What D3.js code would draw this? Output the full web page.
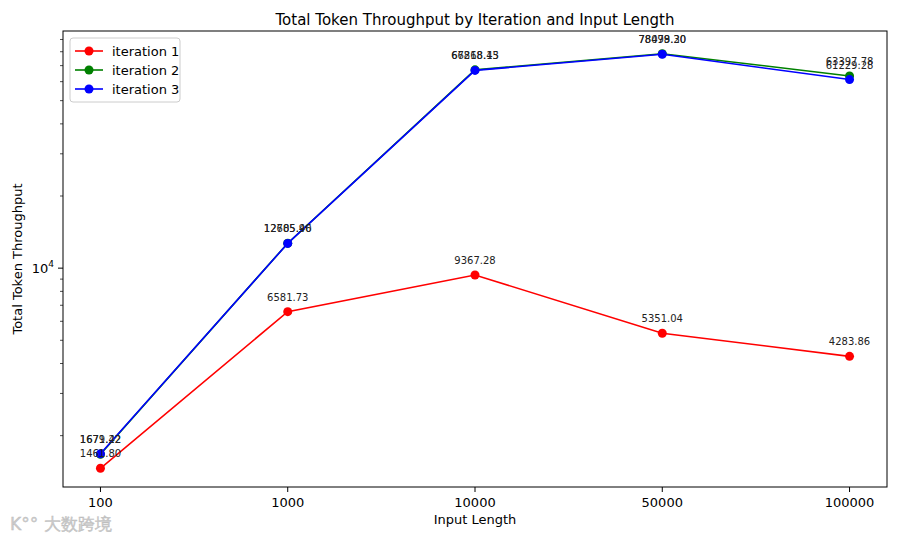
<!DOCTYPE html>
<html>
<head>
<meta charset="utf-8">
<script src="https://cdn.jsdelivr.net/npm/d3@7"></script>
<style>
  body { margin: 0; background: #fff; }
  text { font-family: "DejaVu Sans", sans-serif; }
</style>
</head>
<body>
<div id="chart"></div>
<script>
// data
const inputLengths = ["100", "1000", "10000", "50000", "100000"];
const iteration1 = [1461.80, 6581.73, 9367.28, 5351.04, 4283.86];
const iteration2 = [1671.22, 12705.40, 67218.15, 78479.20, 63397.78];
const iteration3 = [1679.42, 12685.96, 66868.43, 78098.30, 61229.28];
const seriesNames = ["iteration 1", "iteration 2", "iteration 3"];
const seriesColors = ["#ff0000", "#008000", "#0000ff"];

const series = [iteration1, iteration2, iteration3].map((vals, i) => ({
    name: seriesNames[i],
    color: seriesColors[i],
    values: vals.map((v, j) => ({x: inputLengths[j], y: v}))
}));

const W = 900, H = 540;
const margin = {top: 31, right: 13, bottom: 53, left: 63};
const width = W - margin.left - margin.right;
const height = H - margin.top - margin.bottom;

const svg = d3.select("#chart").append("svg")
    .attr("width", W)
    .attr("height", H);

const g = svg.append("g")
    .attr("transform", "translate(" + margin.left + "," + margin.top + ")");

// x: categorical with matplotlib-style 0.2 margin
const xIdx = d3.scaleLinear()
    .domain([-0.2, inputLengths.length - 1 + 0.2])
    .range([0, width]);
const x = d => xIdx(inputLengths.indexOf(d));

// y: log with 5% padding in log space
const allVals = [].concat(iteration1, iteration2, iteration3);
const lo = Math.log10(d3.min(allVals)), hi = Math.log10(d3.max(allVals));
const pad = (hi - lo) * 0.05;
const y = d3.scaleLog()
    .domain([Math.pow(10, lo - pad), Math.pow(10, hi + pad)])
    .range([height + 2, 2]);

// frame
g.append("rect")
    .attr("width", width)
    .attr("height", height)
    .attr("fill", "none")
    .attr("stroke", "#000")
    .attr("stroke-width", 1);

// x axis ticks
const xAxis = g.append("g").attr("transform", "translate(0," + height + ")");
inputLengths.forEach(d => {
    xAxis.append("line")
        .attr("x1", x(d)).attr("x2", x(d))
        .attr("y1", 0).attr("y2", 5)
        .attr("stroke", "#000");
    xAxis.append("text")
        .attr("x", x(d))
        .attr("y", 20)
        .attr("text-anchor", "middle")
        .attr("font-size", "13px")
        .text(d);
});

// y axis: major + minor ticks
const yAxis = g.append("g");
const [d0, d1] = y.domain();
for (let e = Math.floor(Math.log10(d0)); e <= Math.ceil(Math.log10(d1)); e++) {
    for (let m = 1; m < 10; m++) {
        const v = m * Math.pow(10, e);
        if (v < d0 || v > d1) continue;
        const major = m === 1;
        yAxis.append("line")
            .attr("x1", major ? -5 : -3).attr("x2", 0)
            .attr("y1", y(v)).attr("y2", y(v))
            .attr("stroke", "#000")
            .attr("stroke-width", major ? 1 : 0.7);
        if (major) {
            const t = yAxis.append("text")
                .attr("x", -9)
                .attr("y", y(v) + 5)
                .attr("text-anchor", "end")
                .attr("font-size", "13px");
            t.append("tspan").text("10");
            t.append("tspan").attr("dy", -6).attr("font-size", "9px").text(e);
        }
    }
}

// lines
const line = d3.line()
    .x(d => x(d.x))
    .y(d => y(d.y));

series.forEach(s => {
    g.append("path")
        .datum(s.values)
        .attr("fill", "none")
        .attr("stroke", s.color)
        .attr("stroke-width", 1.6)
        .attr("d", line);
    g.selectAll(null)
        .data(s.values)
        .join("circle")
        .attr("cx", d => x(d.x))
        .attr("cy", d => y(d.y))
        .attr("r", 4.5)
        .attr("fill", s.color);
});

// value labels (they overlap in the original too)
series.forEach(s => {
    g.selectAll(null)
        .data(s.values)
        .join("text")
        .attr("x", d => x(d.x))
        .attr("y", d => y(d.y) - 11)
        .attr("text-anchor", "middle")
        .attr("font-size", "10px")
        .attr("fill", "#222")
        .text(d => d.y.toFixed(2));
});

// title and axis labels
svg.append("text")
    .attr("x", margin.left + width / 2)
    .attr("y", 25)
    .attr("text-anchor", "middle")
    .attr("font-size", "15px")
    .text("Total Token Throughput by Iteration and Input Length");

svg.append("text")
    .attr("x", margin.left + width / 2)
    .attr("y", 524)
    .attr("text-anchor", "middle")
    .attr("font-size", "13px")
    .text("Input Length");

svg.append("text")
    .attr("transform", "translate(22," + (margin.top + height / 2) + ") rotate(-90)")
    .attr("text-anchor", "middle")
    .attr("font-size", "13px")
    .text("Total Token Throughput");

// legend
const legend = g.append("g").attr("transform", "translate(7,7)");
legend.append("rect")
    .attr("width", 110)
    .attr("height", 64)
    .attr("rx", 3)
    .attr("fill", "#fff")
    .attr("fill-opacity", 0.8)
    .attr("stroke", "#ccc");
series.forEach((s, i) => {
    const ly = 13 + i * 19;
    legend.append("line")
        .attr("x1", 5).attr("x2", 33)
        .attr("y1", ly).attr("y2", ly)
        .attr("stroke", s.color)
        .attr("stroke-width", 1.6);
    legend.append("circle")
        .attr("cx", 19).attr("cy", ly).attr("r", 4.5)
        .attr("fill", s.color);
    legend.append("text")
        .attr("x", 42).attr("y", ly + 5)
        .attr("font-size", "13px")
        .text(s.name);
});

// watermark
svg.append("text")
    .attr("x", 10)
    .attr("y", 530)
    .attr("font-family", "Noto Sans CJK SC")
    .attr("font-size", "17px")
    .attr("fill", "#ccc")
    .attr("stroke", "#bbb")
    .attr("stroke-width", 0.4)
    .text("K\u00b0\u00b0 大数跨境");
</script>
</body>
</html>
